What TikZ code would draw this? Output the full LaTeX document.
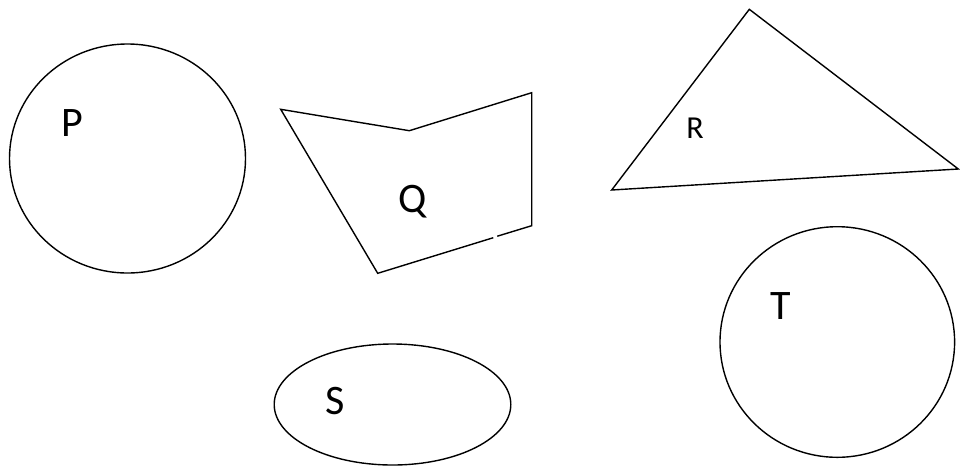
\documentclass[tikz,border=0pt]{standalone}
\usepackage{fontspec}
\setmainfont{Carlito}
\begin{document}
\begin{tikzpicture}[x=1pt,y=-1pt,
  shape line/.style={draw=black,line width=1.4pt,line join=miter},
  lbl/.style={font=\fontsize{42}{42}\selectfont,inner sep=0pt,anchor=center},
  lblsmall/.style={font=\fontsize{32}{32}\selectfont,inner sep=0pt,anchor=center}]
\useasboundingbox (0,0) rectangle (960,467);
% P circle
\draw[shape line] (127.5,158.5) ellipse [x radius=118,y radius=114.5];
\node[lbl] (P) at (72,123) {P};
% Q polygon (with small gap on the lower edge)
\coordinate (q1) at (280.7,109.3);
\coordinate (q2) at (409.3,130.7);
\coordinate (q3) at (531.7,92.7);
\coordinate (q4) at (531.7,225.7);
\coordinate (q5) at (497.3,236.2);
\coordinate (q6) at (493.3,237.7);
\coordinate (q7) at (377.7,273.3);
\draw[shape line] (q6) -- (q7) -- (q1) -- (q2) -- (q3) -- (q4) -- (q5);
\node[lbl] (Q) at (413,202) {Q};
% R triangle
\draw[shape line] (749.3,9.3) -- (958.3,169) -- (611.7,190) -- cycle;
\node[lblsmall] (R) at (695,128) {R};
% S ellipse
\draw[shape line] (392.5,404.5) ellipse [x radius=118.3,y radius=60.5];
\node[lbl] (S) at (335,401.5) {S};
% T circle
\draw[shape line] (837.3,342) ellipse [x radius=117.3,y radius=115.3];
\node[lbl] (T) at (780.5,306) {T};
\end{tikzpicture}
\end{document}
